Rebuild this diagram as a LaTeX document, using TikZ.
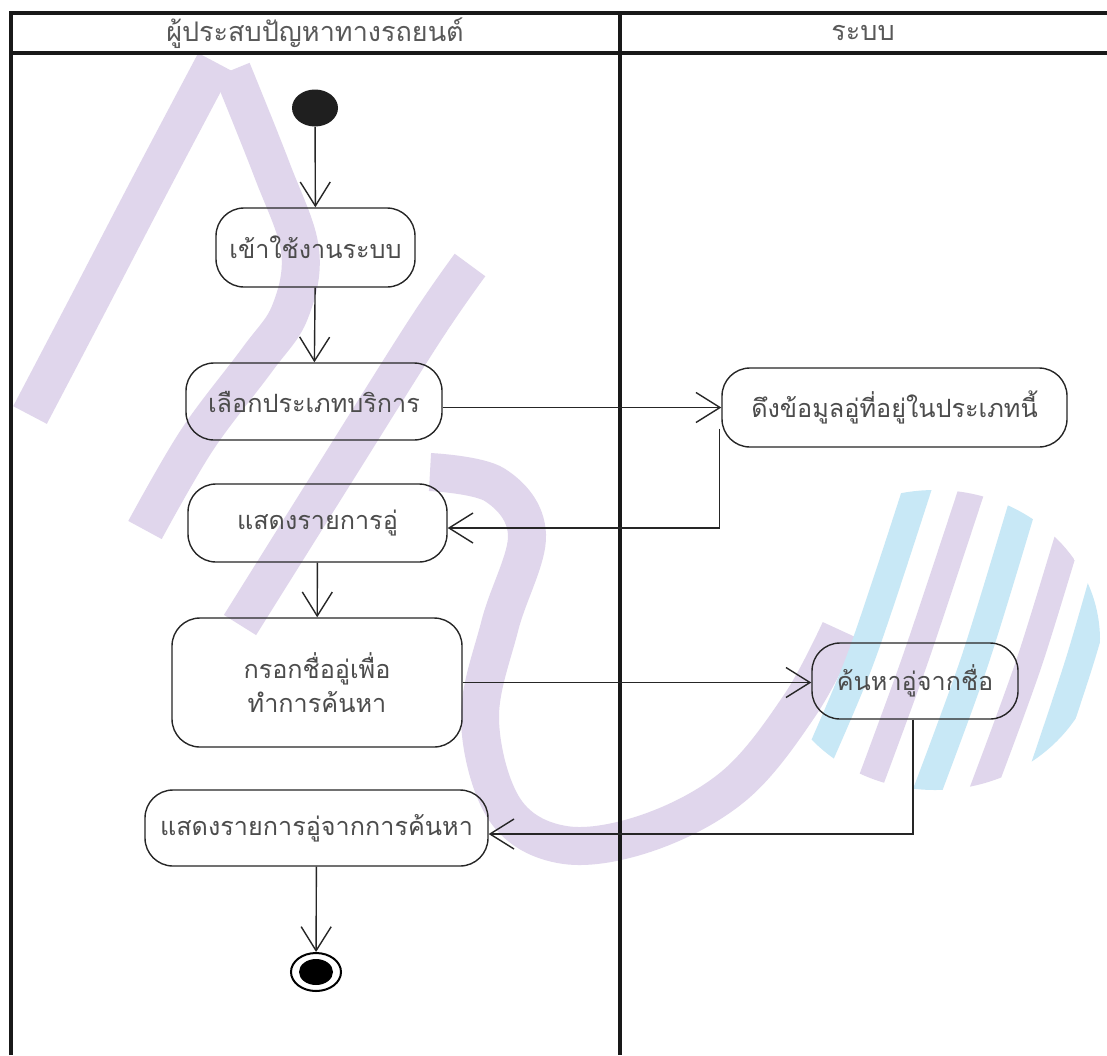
\documentclass[tikz,border=0pt]{standalone}
\usepackage{fontspec}
\newfontfamily\thai[Script=Thai]{Loma}
\usetikzlibrary{arrows.meta,shapes.geometric}
\definecolor{wmlav}{RGB}{224,214,236}
\definecolor{wmblue}{RGB}{200,232,246}
\begin{document}
\begin{tikzpicture}[x=0.5pt,y=-0.5pt,
  act/.style={draw=black!85, line width=0.7pt, rounded corners=14pt, align=center,
    font=\thai\fontsize{12.6}{17}\selectfont, text=black!70, inner sep=0pt, fill=none},
  arr/.style={draw=black!85, line width=0.7pt,
    -{Straight Barb[length=12pt,width=15pt,line width=0.7pt]}},
  lane/.style={line width=1.6pt, draw=black!90},
  head/.style={font=\thai\fontsize{13.5}{16}\selectfont, text=black!65},
  wm/.style={line width=19pt, draw=wmlav, line cap=butt},
  wmb/.style={line width=14pt, draw=wmblue, line cap=butt}
]
\useasboundingbox (0,0) rectangle (1107,1055);
\fill[white] (0,0) rectangle (1107,1055);

% watermark (background)
\draw[wm] plot[smooth, tension=0.6] coordinates {(215,62) (150,185) (85,310) (30,415)};
\draw[wm] plot[smooth, tension=0.6] coordinates {(232,70) (272,170) (300,250) (290,312) (257,360) (197,440) (145,530)};
\draw[wm] plot[smooth, tension=0.6] coordinates {(470,265) (425,330) (337,470) (240,625)};
\draw[wm] plot[smooth, tension=0.6] coordinates {(430,472) (495,485) (527,535) (500,625) (480,720) (505,810) (565,845) (650,832) (735,785) (800,705) (840,630)};
\begin{scope}
  \clip (935,640) ellipse (165 and 150);
  \draw[wmb] plot[smooth] coordinates {(800,800) (860,660) (920,480)};
  \draw[wm, line width=13pt] plot[smooth] coordinates {(860,810) (915,660) (975,480)};
  \draw[wmb] plot[smooth] coordinates {(920,810) (975,660) (1030,480)};
  \draw[wm, line width=13pt] plot[smooth] coordinates {(975,810) (1030,660) (1085,480)};
  \draw[wmb] plot[smooth] coordinates {(1030,810) (1080,660) (1120,520)};
\end{scope}

% lanes
\draw[lane] (11,1055) -- (11,13) -- (1107,13);
\draw[lane] (11,53) -- (1107,53);
\draw[lane] (620,13) -- (620,1055);
\node[head] (h1) at (315,33) {ผู้ประสบปัญหาทางรถยนต์};
\node[head] (h2) at (863,33) {ระบบ};

% start / end
\node[ellipse, fill=black!88, minimum width=23pt, minimum height=18.5pt, inner sep=0pt] (start) at (315,108) {};
\node[ellipse, draw=black, line width=1pt, minimum width=25pt, minimum height=19pt, inner sep=0pt] (end) at (316,972) {};
\node[ellipse, fill=black, minimum width=17pt, minimum height=13pt, inner sep=0pt] (endin) at (316,972) {};

% activities
\node[act, minimum width=99.5pt, minimum height=39.5pt] (n1) at (315.5,247.5) {เข้าใช้งานระบบ};
\node[act, minimum width=128pt, minimum height=38.5pt] (n2) at (314,401.5) {เลือกประเภทบริการ};
\node[act, minimum width=129.5pt, minimum height=39pt] (n3) at (317.5,523) {แสดงรายการอู่};
\node[act, minimum width=145pt, minimum height=64.5pt] (n4) at (317,682.5) {กรอกชื่ออู่เพื่อ\\ทำการค้นหา};
\node[act, minimum width=171.5pt, minimum height=38pt] (n5) at (316.5,828) {แสดงรายการอู่จากการค้นหา};
\node[act, minimum width=172.5pt, minimum height=39.5pt] (n6) at (894.5,407.5) {ดึงข้อมูลอู่ที่อยู่ในประเภทนี้};
\node[act, minimum width=103pt, minimum height=38pt] (n7) at (915,681) {ค้นหาอู่จากชื่อ};

% flows
\draw[arr] (start) -- (n1);
\draw[arr] (n1) -- (n2);
\draw[arr] (n2.east |- n6.west) -- (n6.west);
\draw[arr] ([xshift=-1pt,yshift=-10.5pt]n6.west) |- ([yshift=-2.5pt]n3.east);
\draw[arr] (n3) -- (n4);
\draw[arr] (n4.east) -- (n4.east -| n7.west);
\draw[arr] ([xshift=-1pt]n7.south) |- ([yshift=-3pt]n5.east);
\draw[arr] (n5) -- (end);
\end{tikzpicture}
\end{document}
